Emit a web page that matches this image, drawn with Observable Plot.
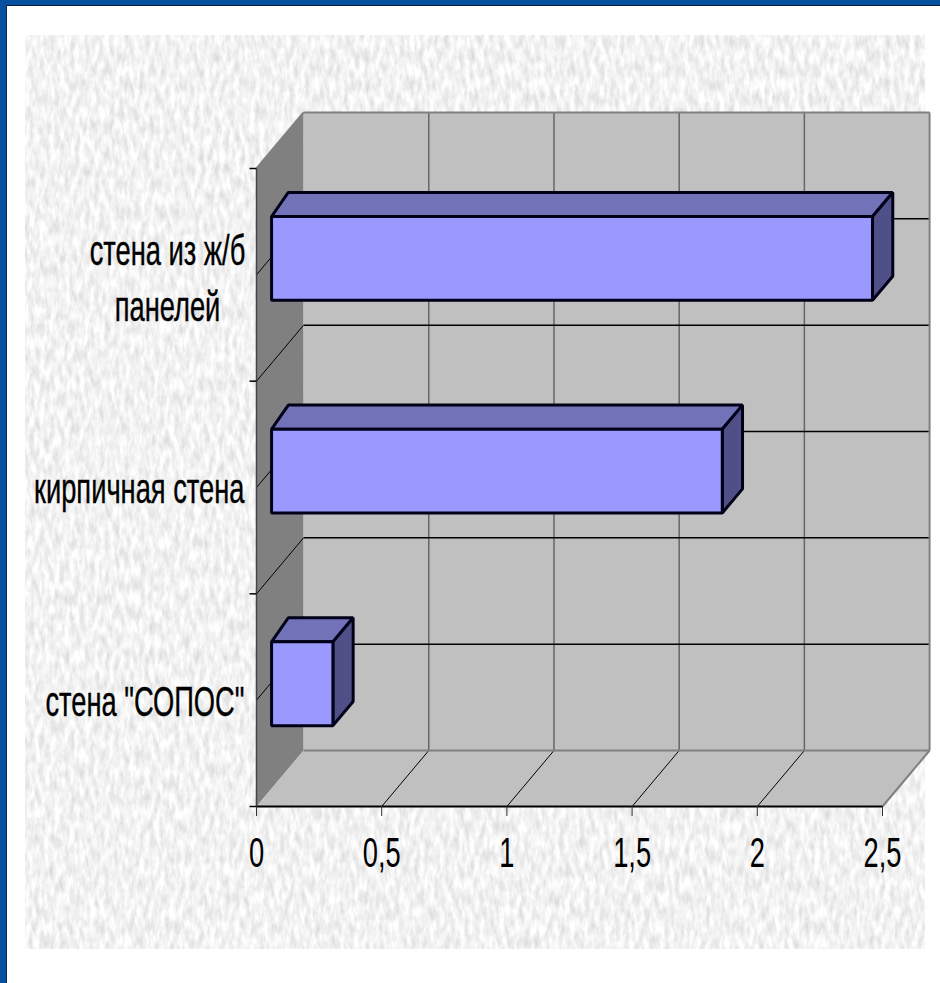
<!DOCTYPE html>
<html lang="ru">
<head>
<meta charset="utf-8">
<script src="https://cdn.jsdelivr.net/npm/d3@7"></script>
<script src="https://cdn.jsdelivr.net/npm/@observablehq/plot@0.6"></script>
<style>
html,body{margin:0;padding:0;background:#fff;}
#page{position:relative;width:940px;height:983px;overflow:hidden;background:#fff;}
#blueTop{position:absolute;left:0;top:0;width:940px;height:5px;background:#05509f;}
#blueLeft{position:absolute;left:0;top:0;width:6px;height:983px;background:#05509f;}
#edgeTop{position:absolute;left:6px;top:5px;width:934px;height:1px;background:#0a1a3a;}
#edgeLeft{position:absolute;left:6px;top:5px;width:1px;height:978px;background:#0a2a5a;}
#paper{position:absolute;left:25px;top:35px;width:900px;height:914px;}
#chart{position:absolute;left:0;top:0;}
</style>
</head>
<body>
<div id="page">
  <div id="blueTop"></div><div id="blueLeft"></div><div id="edgeTop"></div><div id="edgeLeft"></div>
  <svg id="paper" xmlns="http://www.w3.org/2000/svg" width="900" height="914">
    <filter id="grain" x="0" y="0" width="100%" height="100%" color-interpolation-filters="sRGB">
      <feTurbulence type="fractalNoise" baseFrequency="0.2 0.07" numOctaves="3" seed="7"/>
      <feColorMatrix type="matrix" values="0.24 0 0 0 0.83  0.24 0 0 0 0.83  0.24 0 0 0 0.83  0 0 0 0 1"/>
    </filter>
    <rect width="900" height="914" filter="url(#grain)"/>
  </svg>
  <div id="chart"></div>
</div>
<script>
// Values
const categories = ['стена "СОПОС"', "кирпичная стена", "стена из ж/б\nпанелей"];
const values = [0.245, 1.8, 2.4];
const xTicks = [0, 0.5, 1, 1.5, 2, 2.5];
const xTickLabels = ["0", "0,5", "1", "1,5", "2", "2,5"];
const bandEdges = [0, 1, 2, 3];
const bandCenters = [0.5, 1.5, 2.5];

// Oblique projection of the chart's depth, in data units
const depthX = 0.188, depthY = 0.2633;
const px = (x, d) => x + d * depthX;
const py = (y, d) => y + d * depthY;
const barNear = 0.32, barFar = 0.75, barHalf = 0.197, barLift = -0.007, backLeftShift = -0.014;
const xMax = 2.5, yMax = 3, yTickLen = 0.028;

const poly = (pts) => pts.map(([x, y, d], i) => ({x: px(x, d), y: py(y, d), i}));
const seg = (x1, y1, d1, x2, y2, d2) => ({x1: px(x1, d1), y1: py(y1, d1), x2: px(x2, d2), y2: py(y2, d2)});

const wallLeft  = poly([[0,0,0],[0,0,1],[0,yMax,1],[0,yMax,0]]);
const wallBack  = poly([[0,0,1],[xMax,0,1],[xMax,yMax,1],[0,yMax,1]]);
const wallFloor = poly([[0,0,0],[xMax,0,0],[xMax,0,1],[0,0,1]]);

const shape = (pts, fill, o = {}) => Plot.line(pts, {x: "x", y: "y", curve: "linear-closed", fill, stroke: "none", ...o});
const links = (rows, stroke, strokeWidth) => Plot.link(rows, {x1: "x1", y1: "y1", x2: "x2", y2: "y2", stroke, strokeWidth, strokeLinecap: "butt"});

const barStroke = {stroke: "#000018", strokeWidth: 3, strokeLinejoin: "miter"};
const barMarks = values.flatMap((v, i) => {
  const c = bandCenters[i] + barLift, lo = c - barHalf, hi = c + barHalf;
  const n = barNear, f = barFar, xL = 0, xB = backLeftShift;
  return [
    shape(poly([[xL,hi,n],[v,hi,n],[v,hi,f],[xB,hi,f]]), "#7272b8", barStroke),
    shape(poly([[v,lo,n],[v,lo,f],[v,hi,f],[v,hi,n]]), "#505088", barStroke),
    shape(poly([[xL,lo,n],[v,lo,n],[v,hi,n],[xL,hi,n]]), "#9999ff", barStroke)
  ];
});

const labelStyle = {fontSize: 43, fill: "#000", stroke: "#000", strokeWidth: 0.4, fontFamily: "Liberation Sans"};

const chart = Plot.plot({
  width: 940, height: 983,
  marginLeft: 256, marginRight: 58, marginTop: 168, marginBottom: 177,
  style: {background: "transparent", overflow: "visible"},
  x: {type: "linear", domain: [0, xMax], axis: null},
  y: {type: "linear", domain: [0, yMax], axis: null},
  marks: [
    shape(wallLeft, "#808080"),
    shape(wallFloor, "#c0c0c0"),
    shape(wallBack, "#c0c0c0"),
    // back-wall grid
    links(xTicks.slice(1, -1).map((x) => seg(x, 0, 1, x, yMax, 1)), "#666", 1.5),
    links([...bandCenters, 1, 2].map((y) => seg(0, y, 1, xMax, y, 1)), "#000", 1.5),
    // floor and left-wall grid
    links(xTicks.slice(1, -1).map((x) => seg(x, 0, 0, x, 0, 1)), "#000", 1),
    links([...bandCenters, 1, 2].map((y) => seg(0, y, 0, 0, y, 1)), "#000", 1),
    // edges of the box
    links([seg(0, yMax, 1, xMax, yMax, 1), seg(xMax, 0, 1, xMax, yMax, 1), seg(0, 0, 1, xMax, 0, 1), seg(xMax, 0, 0, xMax, 0, 1), seg(0, yMax, 0, 0, yMax, 1)], "#808080", 2),
    ...barMarks,
    // axes
    links([seg(0, 0, 0, 0, yMax, 0)], "#444", 1.5),
    links(bandEdges.map((y) => seg(-yTickLen, y, 0, 0, y, 0)), "#000", 1.5),
    links([seg(0, 0, 0, xMax, 0, 0)], "#000", 2),
    Plot.axisX(xTicks, {
      anchor: "bottom", tickSize: 10, tickPadding: 20, fontSize: 43,
      tickFormat: (d, i) => xTickLabels[i], label: null, stroke: "#333",
      fontFamily: "Liberation Sans"
    }),
    Plot.text(categories.filter((c) => !c.includes("\n")), {
      x: 0, dx: -12, dy: 2,
      y: (d) => bandCenters[categories.indexOf(d)],
      text: (d) => d, textAnchor: "end", ...labelStyle
    }),
    Plot.text(categories.filter((c) => c.includes("\n")), {
      x: 0, dx: -89, dy: 0,
      y: (d) => bandCenters[categories.indexOf(d)],
      text: (d) => d, textAnchor: "middle", lineHeight: 1.3, ...labelStyle
    })
  ]
});
chart.querySelectorAll("text").forEach((t) => {
  const tr = t.getAttribute("transform") || "";
  t.setAttribute("transform", tr + " scale(0.635,1)");
});
document.getElementById("chart").append(chart);
</script>
</body>
</html>
